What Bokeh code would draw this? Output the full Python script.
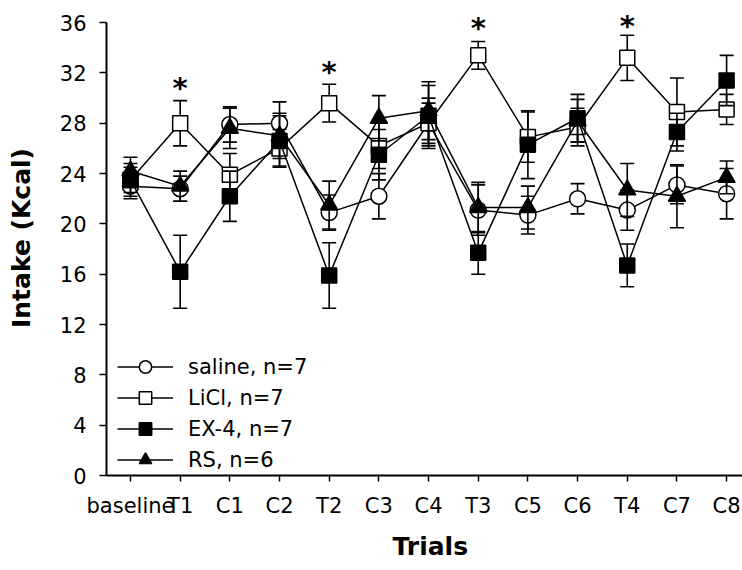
from bokeh.plotting import figure
from bokeh.models import FixedTicker, Range1d, Legend, LegendItem, Title
from bokeh.embed import file_html
from bokeh.resources import INLINE
from bokeh.core.properties import value

# ---------------- data ----------------
trials = ["baseline", "T1", "C1", "C2", "T2", "C3", "C4", "T3", "C5", "C6", "T4", "C7", "C8"]

saline = [23.0, 22.8, 27.9, 28.0, 20.9, 22.2, 28.0, 21.1, 20.7, 22.0, 21.1, 23.1, 22.4]
saline_err = [1.0, 1.0, 1.4, 1.7, 1.4, 1.8, 1.6, 2.0, 1.5, 1.2, 1.6, 1.5, 2.0]

licl = [23.5, 28.0, 23.9, 26.0, 29.6, 26.2, 28.0, 33.4, 26.9, 27.7, 33.2, 28.9, 29.1]
licl_err = [1.0, 1.8, 1.7, 1.5, 1.5, 1.8, 2.0, 1.1, 2.0, 1.5, 1.8, 2.7, 1.2]

ex4 = [23.5, 16.2, 22.2, 26.6, 15.9, 25.5, 28.6, 17.7, 26.3, 28.4, 16.7, 27.3, 31.4]
ex4_err = [1.3, 2.9, 2.0, 2.0, 2.6, 2.0, 2.4, 1.7, 2.7, 1.9, 1.7, 1.5, 2.0]

rs = [24.2, 23.0, 27.6, 27.0, 21.5, 28.4, 29.0, 21.3, 21.3, 28.2, 22.7, 22.2, 23.7]
rs_err = [1.1, 1.2, 1.6, 1.8, 1.9, 1.8, 2.3, 2.0, 1.7, 1.7, 2.1, 2.5, 1.3]

series_names = ["saline, n=7", "LiCl, n=7", "EX-4, n=7", "RS, n=6"]

star_trials = ["T1", "T2", "T3", "T4"]
star_y = [30.8, 32.1, 35.6, 35.7]

y_ticks = [0, 4, 8, 12, 16, 20, 24, 28, 32, 36]

x_title = "Trials"
y_title = "Intake (Kcal)"

# ---------------- figure ----------------
FONT = "DejaVu Sans"
xs = list(range(len(trials)))

p = figure(width=742, height=570,
           x_range=Range1d(-0.483, 12.32), y_range=Range1d(0, 37.76),
           output_backend="svg", toolbar_location=None,
           min_border_left=106, min_border_right=0,
           min_border_top=0, min_border_bottom=95)

p.outline_line_color = None
p.xgrid.visible = False
p.ygrid.visible = False
p.background_fill_color = "white"

styles = [
    dict(marker="circle", fill="white", size=16),
    dict(marker="square", fill="white", size=15),
    dict(marker="square", fill="black", size=15),
    dict(marker="triangle", fill="black", size=17),
]
all_vals = [saline, licl, ex4, rs]
all_errs = [saline_err, licl_err, ex4_err, rs_err]

items = []
for name, vals, errs, st in zip(series_names, all_vals, all_errs, styles):
    lo = [v - e for v, e in zip(vals, errs)]
    hi = [v + e for v, e in zip(vals, errs)]
    lr = p.line(xs, vals, line_color="black", line_width=1.5)
    p.segment(xs, lo, xs, hi, line_color="black", line_width=1.6)
    p.scatter(xs, lo, marker="dash", size=14, line_color="black", line_width=1.6)
    p.scatter(xs, hi, marker="dash", size=14, line_color="black", line_width=1.6)
    mr = p.scatter(xs, vals, marker=st["marker"], size=st["size"],
                   fill_color=st["fill"], line_color="black", line_width=1.5)
    items.append(LegendItem(label=name, renderers=[lr, mr]))

# significance stars
star_x = [trials.index(t) for t in star_trials]
p.text(star_x, star_y, text=["*"] * len(star_x), text_align="center",
       text_baseline="middle", text_font=value(FONT), text_font_style="bold",
       text_font_size="29px", text_color="black")

legend = Legend(items=items, location=(11, 0), orientation="vertical")
legend.border_line_color = None
legend.background_fill_alpha = 0
legend.padding = 0
legend.margin = 0
legend.spacing = 0
legend.glyph_width = 56
legend.glyph_height = 31
legend.label_height = 31
legend.label_standoff = 15
legend.label_text_font = FONT
legend.label_text_font_size = "21px"
legend.label_text_color = "black"
p.add_layout(legend)

# axes
p.yaxis.ticker = FixedTicker(ticks=y_ticks)
p.yaxis.bounds = (0, 36)
p.yaxis.minor_tick_line_color = None
p.yaxis.major_tick_in = 0
p.yaxis.major_tick_out = 7
p.yaxis.major_label_standoff = 13
p.yaxis.axis_label = y_title
p.yaxis.axis_label_standoff = 21
p.yaxis.axis_label_text_font = FONT
p.yaxis.axis_label_text_font_style = "bold"
p.yaxis.axis_label_text_font_size = "25px"
p.yaxis.axis_label_text_color = "black"

p.xaxis.ticker = FixedTicker(ticks=xs)
p.xaxis.major_label_overrides = {i: t for i, t in enumerate(trials)}
p.xaxis.minor_tick_line_color = None
p.xaxis.major_tick_in = 0
p.xaxis.major_tick_out = 6
p.xaxis.major_label_standoff = 12

for ax in (p.xaxis, p.yaxis):
    ax.axis_line_width = 2
    ax.axis_line_color = "black"
    ax.major_tick_line_width = 1.5
    ax.major_tick_line_color = "black"
    ax.major_label_text_font = FONT
    ax.major_label_text_font_size = "21px"
    ax.major_label_text_color = "black"

# x-axis title as a side-panel title (allows horizontal placement)
xt = Title(text=x_title, align="left", offset=286, standoff=19,
           text_font=FONT, text_font_style="bold", text_font_size="25px",
           text_color="black")
p.add_layout(xt, "below")

open("out.html", "w").write(file_html(p, INLINE))
